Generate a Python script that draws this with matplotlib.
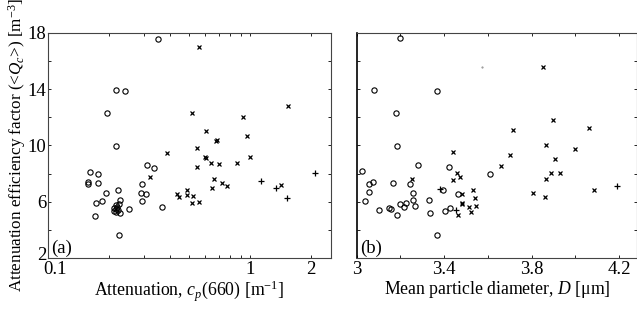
import matplotlib
matplotlib.use("Agg")
import matplotlib.pyplot as plt
import matplotlib.transforms as mtransforms
from matplotlib.ticker import FixedLocator, FixedFormatter, NullFormatter

plt.rcParams['font.family'] = ['Liberation Serif', 'DejaVu Serif']
plt.rcParams['mathtext.fontset'] = 'custom'
plt.rcParams['mathtext.rm'] = 'Liberation Serif'
plt.rcParams['mathtext.it'] = 'Liberation Serif:italic'

# panel (a): attenuation c_p(660) vs <Qc>
cp_circ = [0.350, 0.216, 0.240, 0.195, 0.218, 0.161, 0.177, 0.157, 0.157, 0.177, 0.194, 0.222,
           0.173, 0.184, 0.171, 0.226, 0.213, 0.216, 0.219, 0.213, 0.222, 0.218, 0.228, 0.216,
           0.225, 0.251, 0.225, 0.308, 0.335, 0.293, 0.290, 0.306, 0.292, 0.368]
qc_circ = [17.6, 13.95, 13.88, 12.3, 9.95, 8.15, 7.97, 7.40, 7.25, 7.31, 6.65, 6.83,
           5.90, 6.02, 5.02, 6.10, 5.55, 5.45, 5.60, 5.35, 5.40, 5.75, 5.20, 5.30,
           5.85, 5.50, 3.60, 8.60, 8.40, 7.28, 6.62, 6.55, 6.05, 5.65]
cp_cross = [0.558, 0.515, 0.387, 0.608, 0.684, 0.676, 0.546, 0.600, 0.604, 0.549, 0.644, 0.706,
            0.862, 0.927, 0.970, 1.00, 1.54, 0.320, 0.436, 0.447, 0.488, 0.488, 0.520, 0.515,
            0.561, 0.660, 0.646, 0.730, 0.767, 1.43]
qc_cross = [17.03, 12.31, 9.49, 11.06, 10.38, 10.32, 9.80, 9.20, 9.10, 8.50, 8.78, 8.71,
            8.78, 12.03, 10.65, 9.16, 12.83, 7.76, 6.58, 6.34, 6.84, 6.51, 6.39, 5.94,
            5.98, 7.60, 6.95, 7.36, 7.12, 7.22]
cp_plus = [1.13, 1.35, 1.52, 2.10]
qc_plus = [7.5, 6.96, 6.27, 8.05]

# panel (b): mean particle diameter D vs <Qc>
d_circ = [3.198, 3.081, 3.369, 3.180, 3.186, 3.025, 3.282, 3.422, 3.610, 3.057, 3.076, 3.056,
          3.040, 3.104, 3.146, 3.158, 3.183, 3.197, 3.217, 3.226, 3.165, 3.242, 3.257, 3.256,
          3.268, 3.329, 3.333, 3.368, 3.395, 3.404, 3.425, 3.461]
qd_circ = [17.64, 13.97, 13.9, 12.34, 9.97, 8.19, 8.63, 8.45, 8.0, 7.27, 7.38, 6.67,
           6.08, 5.40, 5.55, 5.48, 5.06, 5.86, 5.62, 5.94, 7.33, 7.29, 6.65, 6.09,
           5.73, 6.12, 5.19, 3.67, 6.85, 5.31, 5.52, 6.57]
d_cross = [3.851, 3.714, 3.900, 4.063, 3.865, 4.000, 3.439, 3.701, 3.659, 3.909, 3.457, 3.474,
           3.442, 3.253, 3.890, 3.932, 3.868, 3.808, 3.862, 4.087, 3.534, 3.482, 3.543, 3.483,
           3.483, 3.515, 3.525, 3.547, 3.464]
qd_cross = [15.6, 11.1, 11.79, 11.27, 10.01, 9.73, 9.52, 9.35, 8.57, 9.04, 8.05, 7.76,
            7.55, 7.62, 8.02, 8.02, 7.62, 6.63, 6.36, 6.81, 6.81, 6.58, 6.25, 5.94,
            5.82, 5.63, 5.30, 5.70, 5.09]
d_plus = [4.189, 3.454, 3.380]
qd_plus = [7.12, 5.42, 6.93]

y_major = [2, 6, 10, 14, 18]
y_minor = [4, 8, 12, 16]

fig = plt.figure(figsize=(6.37, 3.12), dpi=100)
ax1 = fig.add_axes([0.0754, 0.1731, 0.4443, 0.7212])
ax2 = fig.add_axes([0.56, 0.1731, 0.44, 0.7212])

tick_fs = 13.5
lab_fs = 12.8


def draw(ax, xo, yo, xx, yx, xp, yp):
    ax.plot(xo, yo, 'o', ms=3.8, mfc='none', mec='black', mew=0.8)
    ax.plot(xx, yx, 'x', ms=2.4, color='black', mew=0.9)
    ax.plot(xp, yp, '+', ms=4, color='black', mew=0.9)
    ax.set_ylim(2, 18)
    ax.yaxis.set_major_locator(FixedLocator(y_major))
    ax.yaxis.set_minor_locator(FixedLocator(y_minor))
    ax.tick_params(which='both', direction='in', top=True, right=True,
                   length=2.5, width=0.6, labelsize=tick_fs, pad=1)
    ax.tick_params(axis='x', pad=2)
    for s in ax.spines.values():
        s.set_linewidth(0.8)
        s.set_color('#444444')


draw(ax1, cp_circ, qc_circ, cp_cross, qc_cross, cp_plus, qc_plus)
ax1.set_xscale('log')
ax1.set_xlim(0.1, 2.52)
ax1.xaxis.set_major_locator(FixedLocator([0.1, 1, 2]))
ax1.xaxis.set_minor_locator(FixedLocator([0.2, 0.3, 0.4, 0.5, 0.6, 0.7, 0.8, 0.9]))
ax1.xaxis.set_major_formatter(FixedFormatter(['0.1', '1', '2']))
ax1.xaxis.set_minor_formatter(NullFormatter())
ax1.set_yticklabels([str(v) for v in y_major])
ax1.set_xlabel('Attenuation, $c_p$(660) [m$^{\\mathregular{-1}}$]', fontsize=lab_fs, labelpad=1)
ax1.set_ylabel('Attenuation efficiency factor (<$Q_c$>) [m$^{\\mathregular{-3}}$]',
               fontsize=12.3, labelpad=0)
ax1.text(0.012, 0.005, '(a)', transform=ax1.transAxes, fontsize=tick_fs, ha='left', va='bottom')

# nudge the corner labels apart as in the original
fig.canvas.draw()
ylab0 = ax1.get_yticklabels()[0]
ylab0.set_transform(ylab0.get_transform() + mtransforms.ScaledTranslation(0, 3 / 72, fig.dpi_scale_trans))
xlab0 = ax1.get_xticklabels()[0]
xlab0.set_transform(xlab0.get_transform() + mtransforms.ScaledTranslation(5 / 72, 0, fig.dpi_scale_trans))

draw(ax2, d_circ, qd_circ, d_cross, qd_cross, d_plus, qd_plus)
ax2.plot([3.572], [15.6], '.', ms=1, color='#888888')
ax2.set_xlim(3, 4.282)
ax2.xaxis.set_major_locator(FixedLocator([3, 3.4, 3.8, 4.2]))
ax2.xaxis.set_minor_locator(FixedLocator([3.2, 3.6, 4.0]))
ax2.set_xticklabels(['3', '3.4', '3.8', '4.2'])
ax2.tick_params(axis='y', labelleft=False)
ax2.spines['left'].set_color('black')
ax2.spines['left'].set_linewidth(1.2)
ax2.set_xlabel('Mean particle diameter, $D$ [\u03bcm]', fontsize=lab_fs, labelpad=1)
ax2.text(0.012, 0.005, '(b)', transform=ax2.transAxes, fontsize=tick_fs, ha='left', va='bottom')

fig.savefig('out.png', dpi=100)
